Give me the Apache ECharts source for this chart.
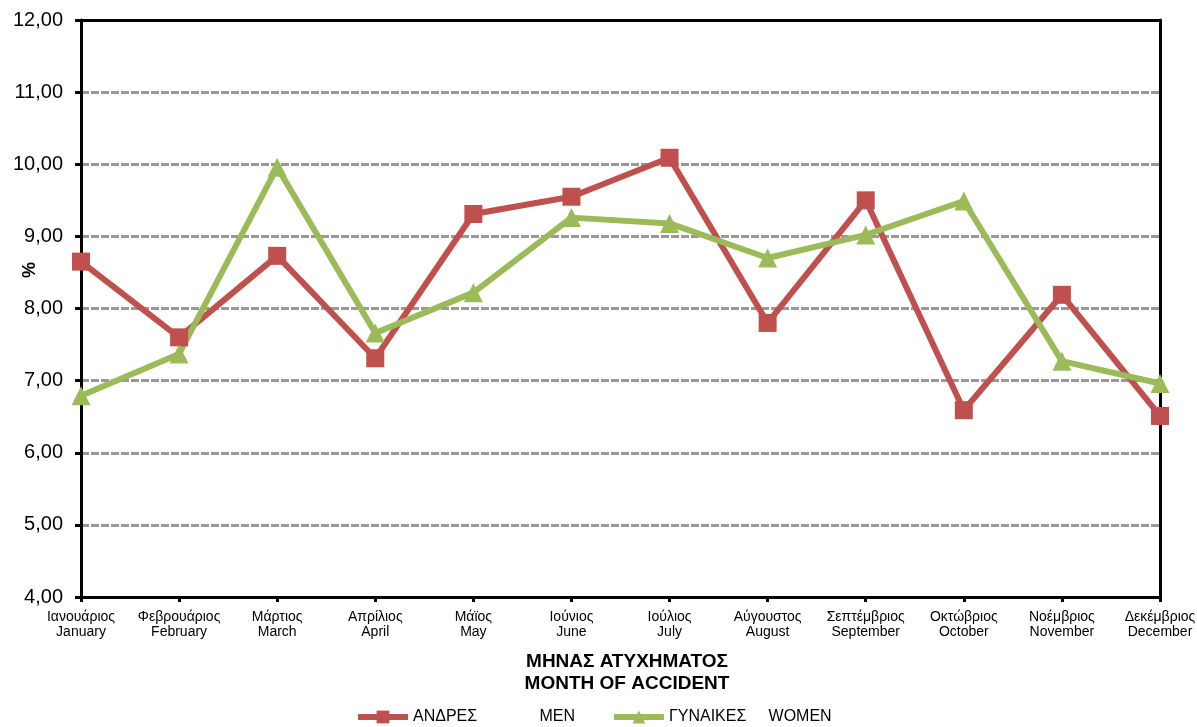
<!DOCTYPE html>
<html>
<head>
<meta charset="utf-8">
<script src="https://cdn.jsdelivr.net/npm/echarts@6/dist/echarts.min.js"></script>
<style>
  html, body { margin: 0; padding: 0; background: #fff; }
  #chart { width: 1197px; height: 727px; }
</style>
</head>
<body>
<div id="chart"></div>
<script>
  // months, greek + english
  const monthsGr = ['Ιανουάριος', 'Φεβρουάριος', 'Μάρτιος', 'Απρίλιος', 'Μάϊος', 'Ιούνιος',
    'Ιούλιος', 'Αύγουστος', 'Σεπτέμβριος', 'Οκτώβριος', 'Νοέμβριος', 'Δεκέμβριος'];
  const monthsEn = ['January', 'February', 'March', 'April', 'May', 'June',
    'July', 'August', 'September', 'October', 'November', 'December'];
  const men = [8.65, 7.60, 8.73, 7.31, 9.31, 9.55, 10.09, 7.80, 9.50, 6.59, 8.19, 6.51];
  const women = [6.79, 7.37, 9.96, 7.66, 8.22, 9.26, 9.18, 8.70, 9.02, 9.49, 7.27, 6.96];

  const menName = 'ΑΝΔΡΕΣ              MEN';
  const womenName = 'ΓΥΝΑΙΚΕΣ     WOMEN';

  const categories = monthsGr.map((g, i) => g + '\n' + monthsEn[i]);

  const chart = echarts.init(document.getElementById('chart'));
  const font = 'Liberation Sans, Arial, sans-serif';
  const frame = { show: true, lineStyle: { color: '#000', width: 3 } };

  const option = {
    animation: false,
    textStyle: { fontFamily: font },
    grid: {
      left: 81, right: 37, top: 20, bottom: 130,
      containLabel: false, outerBoundsMode: 'none'
    },
    title: {
      text: 'ΜΗΝΑΣ ΑΤΥΧΗΜΑΤΟΣ\nMONTH OF ACCIDENT',
      left: 622, top: 646, textAlign: 'center',
      textStyle: { fontFamily: font, fontSize: 19, fontWeight: 'bold', color: '#000', lineHeight: 22 }
    },
    // y axis title "%", sits above the middle of the axis like the original
    graphic: [{
      type: 'text',
      x: 30, y: 270, rotation: Math.PI / 2,
      style: {
        text: '%', fontFamily: font, fontSize: 18, fontWeight: 'bold', fill: '#000',
        align: 'center', verticalAlign: 'middle'
      }
    }],
    legend: {
      top: 709, left: 355, padding: 0,
      itemWidth: 50, itemHeight: 16, itemGap: 36,
      lineStyle: { width: 6 },
      textStyle: { fontFamily: font, fontSize: 16, color: '#000' },
      data: [menName, womenName]
    },
    xAxis: [
      {
        type: 'category',
        data: categories,
        boundaryGap: false,
        axisLine: frame,
        axisTick: { inside: false, length: 5, interval: 0, lineStyle: { color: '#000', width: 3 } },
        axisLabel: { interval: 0, fontFamily: font, fontSize: 14, color: '#000', lineHeight: 15, margin: 13 },
        splitLine: { show: false }
      },
      {
        type: 'category',
        position: 'top',
        data: categories,
        boundaryGap: false,
        axisLine: frame,
        axisTick: { show: false },
        axisLabel: { show: false },
        splitLine: { show: false }
      }
    ],
    yAxis: [
      {
        type: 'value',
        min: 4, max: 12, interval: 1,
        axisLine: frame,
        axisTick: { show: true, length: 6, lineStyle: { color: '#000', width: 3 } },
        axisLabel: {
          fontFamily: font, fontSize: 20, color: '#000', margin: 18,
          formatter: v => v.toFixed(2).replace('.', ',')
        },
        splitLine: { lineStyle: { color: '#999', width: 3, type: [8, 2] } }
      },
      {
        type: 'value',
        position: 'right',
        min: 4, max: 12, interval: 1,
        axisLine: frame,
        axisTick: { show: false },
        axisLabel: { show: false },
        splitLine: { show: false }
      }
    ],
    series: [
      {
        name: menName,
        type: 'line',
        data: men,
        symbol: 'rect',
        symbolSize: 18,
        lineStyle: { color: '#C0504D', width: 6 },
        itemStyle: { color: '#C0504D' }
      },
      {
        name: womenName,
        type: 'line',
        data: women,
        symbol: 'triangle',
        symbolSize: 19,
        lineStyle: { color: '#9BBB59', width: 6 },
        itemStyle: { color: '#9BBB59' }
      }
    ]
  };

  chart.setOption(option);
</script>
</body>
</html>
